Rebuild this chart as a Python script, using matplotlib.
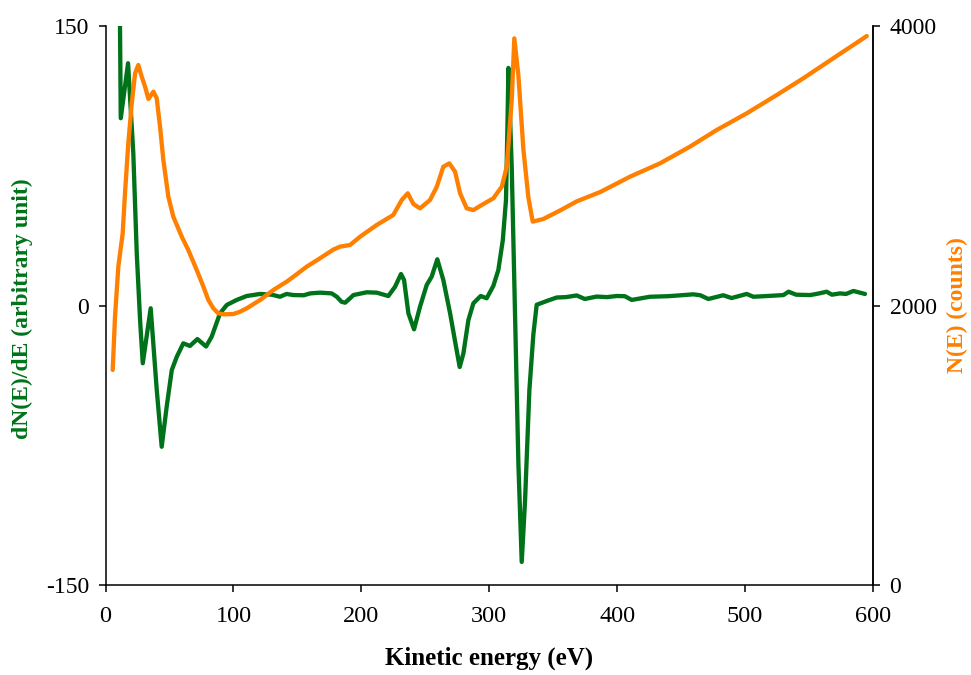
import matplotlib
matplotlib.use("Agg")
import matplotlib.pyplot as plt

plt.rcParams['font.family'] = ['Liberation Serif', 'DejaVu Serif']
plt.rcParams['axes.unicode_minus'] = False

# Derivative spectrum dN(E)/dE (left axis)
energy_d = [11.0, 11.9, 17.6, 21.7, 24.4, 27.0, 29.1, 35.3, 40.0, 43.9, 47.8, 51.8,
            55.7, 60.8, 66.0, 71.8, 78.6, 83.0, 89.5, 94.8, 102.6, 110.4, 120.8,
            130.0, 136.4, 141.6, 146.9, 155.0, 160.0, 167.7, 176.8, 180.8, 184.5,
            187.3, 191.2, 193.8, 204.2, 212.0, 221.1, 226.3, 231.0, 233.4, 236.8,
            241.2, 245.9, 251.1, 255.0, 259.4, 264.1, 269.4, 274.0, 276.9, 279.8,
            283.7, 287.6, 293.3, 298.0, 303.2, 307.1, 310.6, 313.1, 314.2, 315.0,
            317.6, 320.2, 322.8, 325.4, 328.0, 331.4, 334.5, 337.1, 344.9, 352.8,
            360.0, 368.4, 374.7, 384.0, 392.0, 399.7, 406.0, 411.4, 425.7, 440.0,
            450.0, 459.6, 465.0, 471.3, 483.0, 489.5, 501.3, 506.5, 515.0, 530.0,
            534.0, 540.0, 551.0, 558.0, 563.8, 568.0, 574.2, 579.0, 584.7, 593.8]
dNdE = [175, 100.5, 130, 81.7, 28, -7.8, -31, -1.5, -45, -75.8, -54.3, -34.6,
        -27.5, -20.3, -21.7, -18, -22, -16.7, -4.2, 0.3, 3, 5.1, 6.2,
        5.8, 4.7, 6.2, 5.6, 5.5, 6.5, 6.9, 6.5, 4.7, 2,
        1.5, 3.9, 5.6, 7.1, 6.9, 5.1, 10, 16.9, 13.7, -4.2,
        -12.8, -0.6, 11, 15.5, 24.8, 13.7, -4.2, -22, -33, -25.7,
        -7.8, 1.2, 5.1, 3.9, 10.5, 19, 35, 56.6, 95, 127.5,
        73.9, -5.6, -85, -137.6, -104.8, -45.2, -15.5, 0.4, 2.4, 4.3,
        4.5, 5.4, 3.5, 4.8, 4.5, 5.1, 5.0, 3.0, 4.7, 5.0,
        5.5, 6.0, 5.5, 3.5, 5.5, 4.0, 6.2, 4.7, 5.0, 5.6,
        7.4, 5.8, 5.6, 6.5, 7.4, 5.8, 6.5, 6.2, 7.8, 6.2]

# Direct spectrum N(E) (right axis)
energy_n = [5.6, 7.4, 10.0, 13.4, 15.2, 17.8, 20.5, 23.1, 25.6, 28.3, 30.9, 33.5,
            37.4, 40.0, 42.6, 45.2, 49.1, 53.0, 59.6, 64.7, 71.3, 76.5, 80.4,
            84.3, 88.0, 92.1, 99.9, 105.0, 110.4, 120.8, 131.2, 141.7, 146.9,
            157.3, 167.7, 178.1, 183.3, 191.2, 199.0, 212.0, 225.0, 231.6, 236.3,
            240.7, 245.9, 253.7, 259.0, 264.1, 268.8, 273.3, 277.2, 282.4, 287.6,
            295.4, 303.2, 309.8, 313.7, 317.6, 319.6, 322.8, 326.7, 330.6, 334.0,
            342.3, 355.4, 368.4, 387.0, 410.1, 433.5, 457.0, 477.9, 501.3, 524.8,
            545.6, 569.0, 595.2]
counts = [1539, 1920, 2278, 2516, 2803, 3160, 3447, 3662, 3721, 3637, 3566, 3478,
          3530, 3483, 3280, 3041, 2779, 2635, 2492, 2397, 2254, 2135, 2039,
          1980, 1945, 1937, 1939, 1955, 1980, 2039, 2111, 2171, 2206,
          2278, 2338, 2400, 2421, 2433, 2492, 2576, 2648, 2755, 2803,
          2726, 2695, 2755, 2850, 2993, 3017, 2957, 2803, 2695, 2683,
          2726, 2767, 2850, 2993, 3470, 3911, 3646, 3117, 2773, 2600,
          2619, 2680, 2745, 2813, 2922, 3017, 3137, 3256, 3375, 3506,
          3626, 3769, 3928]

x_ticks = [0, 100, 200, 300, 400, 500, 600]
left_ticks = [-150, 0, 150]
right_ticks = [0, 2000, 4000]

green = '#00731a'
orange = '#ff8000'

fig = plt.figure(figsize=(9.71, 6.75), dpi=100)
ax = fig.add_axes([0.1087, 0.1333, 0.7903, 0.8282])
ax2 = ax.twinx()

ax.plot(energy_d, dNdE, color=green, lw=3.1, solid_joinstyle='round', solid_capstyle='round')
ax2.plot(energy_n, counts, color=orange, lw=3.1, solid_joinstyle='round', solid_capstyle='round')

ax.set_xlim(0, 600)
ax.set_ylim(-150, 150)
ax2.set_ylim(0, 4000)
ax.set_xticks(x_ticks)
ax.set_yticks(left_ticks)
ax2.set_yticks(right_ticks)

for a in (ax, ax2):
    a.spines['top'].set_visible(False)
    for s in a.spines.values():
        s.set_linewidth(1.1)
ax2.spines['left'].set_visible(False)
ax2.spines['bottom'].set_visible(False)

ax.tick_params(axis='y', direction='out', length=5, width=1.1, labelsize=17, pad=7)
ax.tick_params(axis='x', direction='out', length=5, width=1.1, labelsize=17.5, pad=10)
ax2.tick_params(axis='y', direction='out', length=5, width=1.1, labelsize=17, pad=7)

ax.set_xlabel('Kinetic energy (eV)', fontsize=18, fontweight='bold', va='center')
ax.xaxis.set_label_coords(0.5, -0.1306)
ax.set_ylabel('dN(E)/dE (arbitrary unit)', fontsize=17, fontweight='bold', color=green, va='center')
ax.yaxis.set_label_coords(-0.1088, 0.494)
ax2.set_ylabel('N(E) (counts)', fontsize=17, fontweight='bold', color=orange, va='center')
ax2.yaxis.set_label_coords(1.1095, 0.5)

fig.savefig('out.png', dpi=100)
